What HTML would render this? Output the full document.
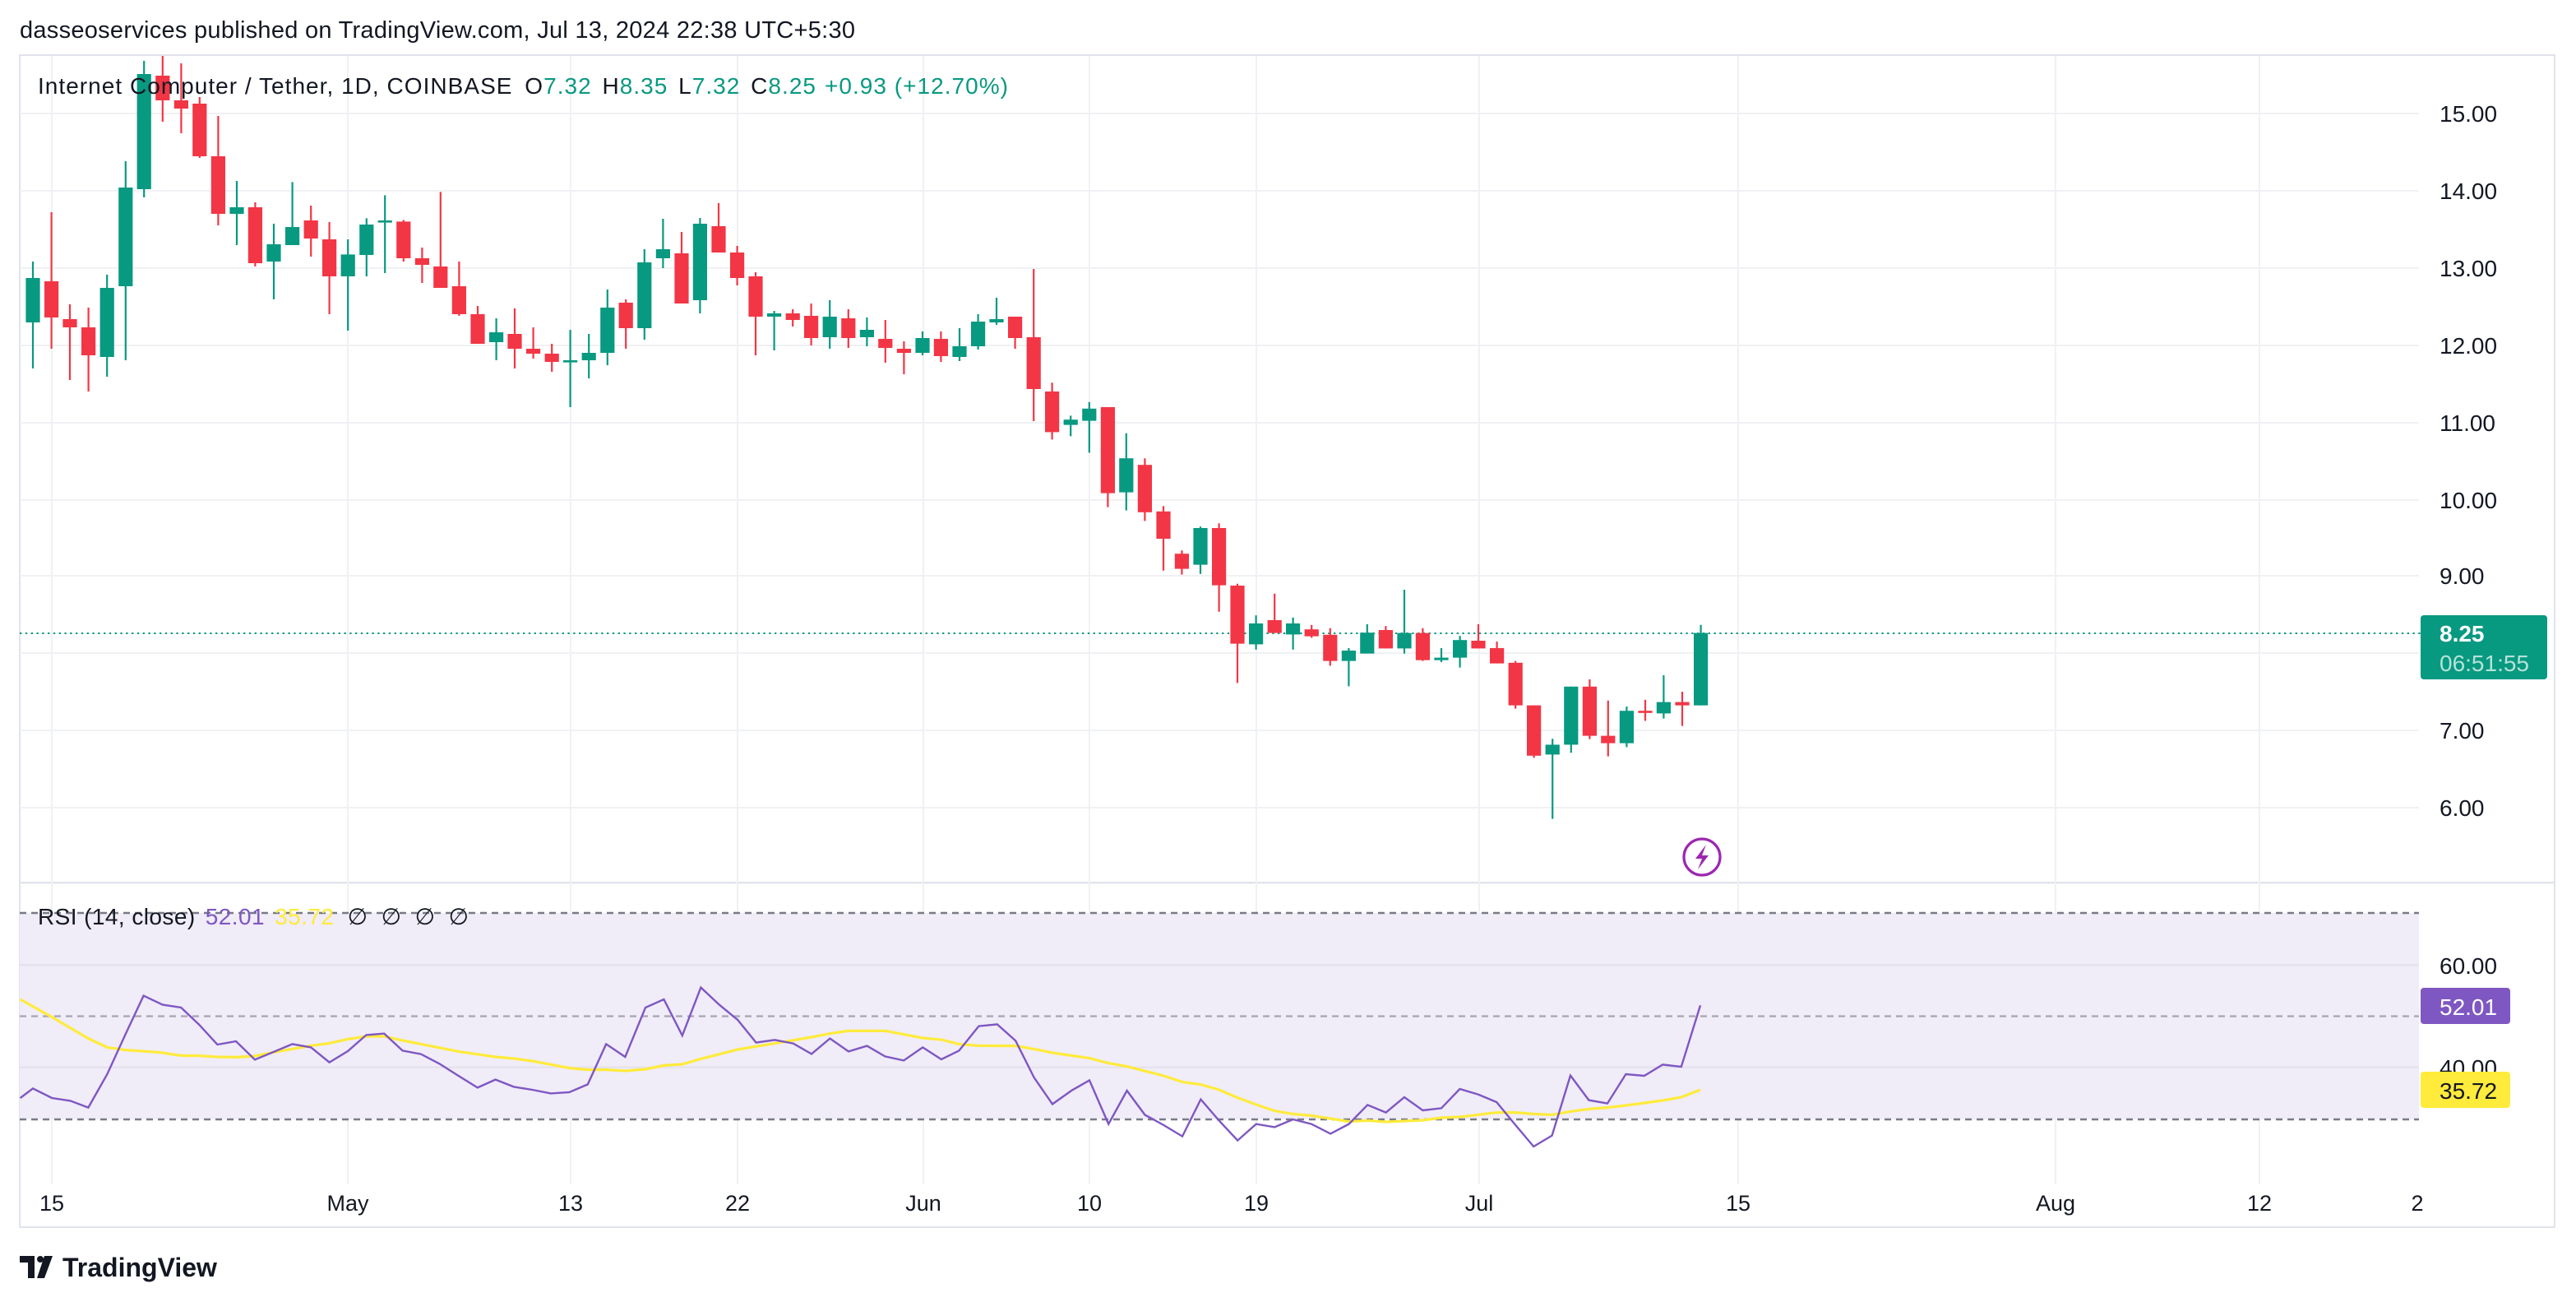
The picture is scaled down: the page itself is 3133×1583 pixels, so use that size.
<!DOCTYPE html>
<html><head><meta charset="utf-8"><style>
html,body{margin:0;padding:0;background:#fff;width:3133px;height:1583px;overflow:hidden}
svg{display:block}
text{font-family:"Liberation Sans","DejaVu Sans",sans-serif}
.g{fill:#089981;stroke:#089981}
.r{fill:#f23645;stroke:#f23645}
.w{stroke-width:1.1;fill:none}
.b{stroke:none}
</style></head><body>
<svg width="3133" height="1583" viewBox="0 0 1566.5 791.5" xmlns="http://www.w3.org/2000/svg">
<rect width="1566.5" height="791.5" fill="#fff"/>
<text x="12" y="23" font-size="14.5" fill="#131722" textLength="508" lengthAdjust="spacing">dasseoservices published on TradingView.com, Jul 13, 2024 22:38 UTC+5:30</text>
<rect x="12" y="33.5" width="1541.5" height="712.5" fill="none" stroke="#e0e3eb" stroke-width="1"/>
<line x1="12" y1="536.6" x2="1553.5" y2="536.6" stroke="#e0e3eb" stroke-width="1.2"/>
<g stroke="#f0f1f4" stroke-width="1">
<line x1="31.5" y1="34" x2="31.5" y2="720"/><line x1="211.5" y1="34" x2="211.5" y2="720"/><line x1="347" y1="34" x2="347" y2="720"/><line x1="448.5" y1="34" x2="448.5" y2="720"/><line x1="561.5" y1="34" x2="561.5" y2="720"/><line x1="662.5" y1="34" x2="662.5" y2="720"/><line x1="764" y1="34" x2="764" y2="720"/><line x1="899.5" y1="34" x2="899.5" y2="720"/><line x1="1057" y1="34" x2="1057" y2="720"/><line x1="1250" y1="34" x2="1250" y2="720"/><line x1="1374" y1="34" x2="1374" y2="720"/>
</g>
<g stroke="#f0f1f4" stroke-width="1">
<line x1="12" y1="69" x2="1471" y2="69"/><line x1="12" y1="116" x2="1471" y2="116"/><line x1="12" y1="163" x2="1471" y2="163"/><line x1="12" y1="210" x2="1471" y2="210"/><line x1="12" y1="257" x2="1471" y2="257"/><line x1="12" y1="304" x2="1471" y2="304"/><line x1="12" y1="350" x2="1471" y2="350"/><line x1="12" y1="397" x2="1471" y2="397"/><line x1="12" y1="444" x2="1471" y2="444"/><line x1="12" y1="491" x2="1471" y2="491"/>
</g>
<g font-size="14" fill="#131722">
<text x="1483.5" y="74">15.00</text><text x="1483.5" y="121">14.00</text><text x="1483.5" y="168">13.00</text><text x="1483.5" y="215">12.00</text><text x="1483.5" y="262">11.00</text><text x="1483.5" y="309">10.00</text><text x="1483.5" y="355">9.00</text><text x="1483.5" y="449">7.00</text><text x="1483.5" y="496">6.00</text>
</g>
<line x1="12" y1="385" x2="1472" y2="385" stroke="#089981" stroke-width="1" stroke-dasharray="1.2,2.2"/>
<rect x="1472" y="374" width="77" height="39" rx="2" fill="#089981"/>
<text x="1483.5" y="390" font-size="14" fill="#fff" font-weight="bold">8.25</text>
<text x="1483.5" y="408" font-size="14" fill="#b4e3d8">06:51:55</text>
<g id="c">
<path class="g w" d="M20 159V224"/><rect class="g b" x="15.7" y="169" width="8.6" height="27"/>
<path class="r w" d="M31.3 129V212"/><rect class="r b" x="27" y="171" width="8.6" height="22"/>
<path class="r w" d="M42.5 185V231"/><rect class="r b" x="38.2" y="194" width="8.6" height="5"/>
<path class="r w" d="M53.8 187V238"/><rect class="r b" x="49.5" y="199" width="8.6" height="17"/>
<path class="g w" d="M65.1 167V229"/><rect class="g b" x="60.8" y="175" width="8.6" height="42"/>
<path class="g w" d="M76.4 98V219"/><rect class="g b" x="72.1" y="114" width="8.6" height="60"/>
<path class="g w" d="M87.6 37V120"/><rect class="g b" x="83.3" y="45" width="8.6" height="70"/>
<path class="r w" d="M98.9 34V74"/><rect class="r b" x="94.6" y="46" width="8.6" height="15"/>
<path class="r w" d="M110.2 38.5V81"/><rect class="r b" x="105.9" y="61" width="8.6" height="5"/>
<path class="r w" d="M121.4 59V96"/><rect class="r b" x="117.1" y="63" width="8.6" height="32"/>
<path class="r w" d="M132.7 70.5V137"/><rect class="r b" x="128.4" y="95" width="8.6" height="35"/>
<path class="g w" d="M144 110V149"/><rect class="g b" x="139.7" y="126" width="8.6" height="4"/>
<path class="r w" d="M155.2 123V162"/><rect class="r b" x="150.9" y="126" width="8.6" height="34"/>
<path class="g w" d="M166.5 136V182"/><rect class="g b" x="162.2" y="148.5" width="8.6" height="10.5"/>
<path class="g w" d="M177.8 110.7V149"/><rect class="g b" x="173.5" y="138" width="8.6" height="11"/>
<path class="r w" d="M189.1 125V156"/><rect class="r b" x="184.8" y="134" width="8.6" height="11"/>
<path class="r w" d="M200.3 135V191"/><rect class="r b" x="196" y="145.5" width="8.6" height="22.5"/>
<path class="g w" d="M211.6 145.5V201"/><rect class="g b" x="207.3" y="154.7" width="8.6" height="13.3"/>
<path class="g w" d="M222.9 132.7V168"/><rect class="g b" x="218.6" y="136.5" width="8.6" height="18.5"/>
<path class="g w" d="M234.1 118.7V166"/><rect class="g b" x="229.8" y="134" width="8.6" height="1.3"/>
<path class="r w" d="M245.4 133.7V159"/><rect class="r b" x="241.1" y="134.7" width="8.6" height="22.3"/>
<path class="r w" d="M256.7 150.5V172"/><rect class="r b" x="252.4" y="157" width="8.6" height="4"/>
<path class="r w" d="M267.9 116.7V175"/><rect class="r b" x="263.6" y="162" width="8.6" height="13"/>
<path class="r w" d="M279.2 159V192"/><rect class="r b" x="274.9" y="174" width="8.6" height="17"/>
<path class="r w" d="M290.5 186V209"/><rect class="r b" x="286.2" y="191" width="8.6" height="18"/>
<path class="g w" d="M301.8 193.5V219"/><rect class="g b" x="297.5" y="202" width="8.6" height="6"/>
<path class="r w" d="M313 187.5V224"/><rect class="r b" x="308.7" y="203" width="8.6" height="9"/>
<path class="r w" d="M324.3 199V218"/><rect class="r b" x="320" y="212" width="8.6" height="3"/>
<path class="r w" d="M335.6 209V226"/><rect class="r b" x="331.3" y="215" width="8.6" height="5"/>
<path class="g w" d="M346.8 200.5V247.5"/><rect class="g b" x="342.5" y="219" width="8.6" height="1.3"/>
<path class="g w" d="M358.1 203V230"/><rect class="g b" x="353.8" y="214.5" width="8.6" height="4.5"/>
<path class="g w" d="M369.4 176V222"/><rect class="g b" x="365.1" y="187" width="8.6" height="27.5"/>
<path class="r w" d="M380.6 182V212"/><rect class="r b" x="376.3" y="184" width="8.6" height="15.5"/>
<path class="g w" d="M391.9 151.5V206.5"/><rect class="g b" x="387.6" y="159.5" width="8.6" height="40"/>
<path class="g w" d="M403.2 133V163"/><rect class="g b" x="398.9" y="151.5" width="8.6" height="5.5"/>
<path class="r w" d="M414.5 141V184.5"/><rect class="r b" x="410.2" y="154" width="8.6" height="30.5"/>
<path class="g w" d="M425.7 132.5V190.5"/><rect class="g b" x="421.4" y="136" width="8.6" height="46.5"/>
<path class="r w" d="M437 123.5V153.5"/><rect class="r b" x="432.7" y="137.5" width="8.6" height="16"/>
<path class="r w" d="M448.3 149.5V173.5"/><rect class="r b" x="444" y="153.5" width="8.6" height="15.5"/>
<path class="r w" d="M459.5 165.5V216"/><rect class="r b" x="455.2" y="168" width="8.6" height="24.5"/>
<path class="g w" d="M470.8 189V213"/><rect class="g b" x="466.5" y="190.5" width="8.6" height="2"/>
<path class="r w" d="M482.1 188V198.5"/><rect class="r b" x="477.8" y="190.5" width="8.6" height="4"/>
<path class="r w" d="M493.3 184.5V210"/><rect class="r b" x="489" y="192" width="8.6" height="13.5"/>
<path class="g w" d="M504.6 182.5V212"/><rect class="g b" x="500.3" y="192.5" width="8.6" height="12.5"/>
<path class="r w" d="M515.9 188V211.5"/><rect class="r b" x="511.6" y="193.5" width="8.6" height="12"/>
<path class="g w" d="M527.2 193V210.5"/><rect class="g b" x="522.9" y="200.5" width="8.6" height="4.5"/>
<path class="r w" d="M538.4 194.5V220.5"/><rect class="r b" x="534.1" y="206" width="8.6" height="5.5"/>
<path class="r w" d="M549.7 207.5V227.5"/><rect class="r b" x="545.4" y="212" width="8.6" height="2.5"/>
<path class="g w" d="M561 201.5V216"/><rect class="g b" x="556.7" y="205.5" width="8.6" height="9"/>
<path class="r w" d="M572.2 201.5V220"/><rect class="r b" x="567.9" y="206" width="8.6" height="10.5"/>
<path class="g w" d="M583.5 199.5V219.5"/><rect class="g b" x="579.2" y="210.5" width="8.6" height="6.5"/>
<path class="g w" d="M594.8 191V212.5"/><rect class="g b" x="590.5" y="195.5" width="8.6" height="15"/>
<path class="g w" d="M606 181V197.5"/><rect class="g b" x="601.7" y="194" width="8.6" height="2"/>
<path class="r w" d="M617.3 192.5V212"/><rect class="r b" x="613" y="192.5" width="8.6" height="13"/>
<path class="r w" d="M628.6 163.5V256"/><rect class="r b" x="624.3" y="205" width="8.6" height="31.5"/>
<path class="r w" d="M639.8 232.6V267.2"/><rect class="r b" x="635.5" y="238" width="8.6" height="24.7"/>
<path class="g w" d="M651.1 252.7V265.2"/><rect class="g b" x="646.8" y="255.1" width="8.6" height="3.2"/>
<path class="g w" d="M662.4 244.4V275.2"/><rect class="g b" x="658.1" y="248.4" width="8.6" height="7.4"/>
<path class="r w" d="M673.7 247.5V308.3"/><rect class="r b" x="669.4" y="247.5" width="8.6" height="52.3"/>
<path class="g w" d="M684.9 263.4V310.3"/><rect class="g b" x="680.6" y="278.6" width="8.6" height="20.7"/>
<path class="r w" d="M696.2 278.6V316.7"/><rect class="r b" x="691.9" y="282.6" width="8.6" height="28.8"/>
<path class="r w" d="M707.5 307.6V346.9"/><rect class="r b" x="703.2" y="310.9" width="8.6" height="16.6"/>
<path class="r w" d="M718.7 334.6V349.3"/><rect class="r b" x="714.4" y="336.6" width="8.6" height="9.2"/>
<path class="g w" d="M730 320.1V348.9"/><rect class="g b" x="725.7" y="321" width="8.6" height="22.3"/>
<path class="r w" d="M741.3 318.1V371.9"/><rect class="r b" x="737" y="321" width="8.6" height="34.8"/>
<path class="r w" d="M752.5 354.9V415.2"/><rect class="r b" x="748.2" y="356" width="8.6" height="35.3"/>
<path class="g w" d="M763.8 374.1V394.9"/><rect class="g b" x="759.5" y="379" width="8.6" height="12.7"/>
<path class="r w" d="M775.1 360.9V384.8"/><rect class="r b" x="770.8" y="377" width="8.6" height="7.8"/>
<path class="g w" d="M786.3 375.4V394.9"/><rect class="g b" x="782" y="379" width="8.6" height="6.7"/>
<path class="r w" d="M797.6 379.9V387.7"/><rect class="r b" x="793.3" y="382.6" width="8.6" height="4.2"/>
<path class="r w" d="M808.9 381.9V404.7"/><rect class="r b" x="804.6" y="385.9" width="8.6" height="15.9"/>
<path class="g w" d="M820.2 394V417.2"/><rect class="g b" x="815.9" y="395.5" width="8.6" height="6.3"/>
<path class="g w" d="M831.4 379.5V397.3"/><rect class="g b" x="827.1" y="384.6" width="8.6" height="12.7"/>
<path class="r w" d="M842.7 380.6V394.2"/><rect class="r b" x="838.4" y="383" width="8.6" height="11.2"/>
<path class="g w" d="M854 358.5V397.3"/><rect class="g b" x="849.7" y="384.8" width="8.6" height="9.4"/>
<path class="r w" d="M865.2 381.9V401.8"/><rect class="r b" x="860.9" y="384.8" width="8.6" height="16.5"/>
<path class="g w" d="M876.5 394V402.5"/><rect class="g b" x="872.2" y="399.8" width="8.6" height="1.5"/>
<path class="g w" d="M887.8 386.6V405.8"/><rect class="g b" x="883.5" y="389.1" width="8.6" height="10.7"/>
<path class="r w" d="M899 379.5V394.2"/><rect class="r b" x="894.7" y="389.5" width="8.6" height="4.7"/>
<path class="r w" d="M910.3 390V403.3"/><rect class="r b" x="906" y="394" width="8.6" height="9.3"/>
<path class="r w" d="M921.6 401.8V430.8"/><rect class="r b" x="917.3" y="402.9" width="8.6" height="25.9"/>
<path class="r w" d="M932.8 428.8V460.7"/><rect class="r b" x="928.5" y="428.8" width="8.6" height="30.6"/>
<path class="g w" d="M944.1 449.1V497.8"/><rect class="g b" x="939.8" y="452.7" width="8.6" height="6"/>
<path class="g w" d="M955.4 417.4V457.6"/><rect class="g b" x="951.1" y="417.4" width="8.6" height="35.3"/>
<path class="r w" d="M966.7 413V449.3"/><rect class="r b" x="962.4" y="417.4" width="8.6" height="29.9"/>
<path class="r w" d="M977.9 425.9V459.8"/><rect class="r b" x="973.6" y="447.3" width="8.6" height="4.5"/>
<path class="g w" d="M989.2 429.5V454.2"/><rect class="g b" x="984.9" y="432.1" width="8.6" height="19.7"/>
<path class="r w" d="M1000.5 425.4V438.2"/><rect class="r b" x="996.2" y="432.1" width="8.6" height="1.3"/>
<path class="g w" d="M1011.7 410.5V436.8"/><rect class="g b" x="1007.4" y="426.8" width="8.6" height="6.9"/>
<path class="r w" d="M1023 420.5V441.3"/><rect class="r b" x="1018.7" y="426.8" width="8.6" height="2"/>
<path class="g w" d="M1034.3 379.9V428.8"/><rect class="g b" x="1030" y="384.8" width="8.6" height="44"/>
</g>
<text x="23" y="57" font-size="14" fill="#131722" textLength="590" lengthAdjust="spacing">Internet Computer / Tether, 1D, COINBASE <tspan dx="3">O</tspan><tspan fill="#089981">7.32</tspan> <tspan dx="2">H</tspan><tspan fill="#089981">8.35</tspan> <tspan dx="2">L</tspan><tspan fill="#089981">7.32</tspan> <tspan dx="2">C</tspan><tspan fill="#089981">8.25</tspan><tspan fill="#089981" dx="5">+0.93 (+12.70%)</tspan></text>
<circle cx="1035" cy="521" r="11" fill="#fff" stroke="#9c27b0" stroke-width="1.6"/>
<path d="M1037.5 513.5 L1031 522 L1035 522 L1032.5 528.5 L1039 520 L1035 520 Z" fill="#9c27b0"/>
<rect x="12" y="555" width="1459" height="125.5" fill="#f0ecf8"/>
<g stroke="#e3e0ea" stroke-width="1"><line x1="12" y1="586.7" x2="1471" y2="586.7"/><line x1="12" y1="648.8" x2="1471" y2="648.8"/></g>
<line x1="12" y1="555" x2="1471" y2="555" stroke="#787b86" stroke-width="1.2" stroke-dasharray="4,3"/>
<line x1="12" y1="617.8" x2="1471" y2="617.8" stroke="#aaa7b4" stroke-width="1.2" stroke-dasharray="4,3"/>
<line x1="12" y1="680.5" x2="1471" y2="680.5" stroke="#787b86" stroke-width="1.2" stroke-dasharray="4,3"/>
<polyline fill="none" stroke="#ffeb3b" stroke-width="1.6" points="12.3,607.5 31.6,618.3 53.7,631.3 65.2,636.7 76.5,638.3 96.5,639.7 110.1,641.7 121,641.8 132.2,642.5 143.5,642.7 155,642 166.3,639.7 189.1,635.7 200.3,634.2 211.5,631.7 222.7,630 233.6,630 244.8,632.5 256,634.7 278.8,639.2 301.3,642.5 312.5,643.5 323.7,645 346.2,649.3 357.4,650.3 368.6,650.3 380.2,651 392.5,650 403.7,647.7 414.9,647 426.2,643.7 448.6,638 471.1,634.3 493.5,630.5 504.7,628.3 516,626.7 538.4,626.7 549.6,628.8 561.1,631 572.4,632 583.2,634.8 595.2,635.7 617.6,635.8 628.8,637.7 640,640 662.5,643.3 674.1,646.3 685.3,648.3 707.7,654 719,657.7 730.2,659.3 741.4,662.5 752.6,667.3 763.9,671.5 775.1,675.3 786.3,677.2 797.5,678.2 809.1,680 820.3,681.8 831.6,681.2 842.8,682 865.2,681 876.5,679.5 887.7,679 898.9,677.7 910.1,676.3 921.4,676.3 932.6,677.2 943.8,677.7 955,675.7 966.2,674.2 977.5,673.3 988.7,672 999.9,670.5 1011.1,669 1022.4,667 1034,662.5"/>
<polyline fill="none" stroke="#7e57c2" stroke-width="1.2" points="12.3,667.5 20,661.7 31.6,667.5 42.8,669.2 53.7,673.3 65.2,653 76.5,628.3 87.3,605.3 98.9,610.8 110.1,612.5 121,622.8 132.2,635 143.5,633 155,644.2 166.3,639.5 177.8,634.7 189.1,636.7 200.3,645.8 211.5,639 222.7,629.2 233.6,628.3 244.8,638.7 256,640.8 267.3,646.7 278.8,654 290.4,661.2 301.3,656.3 312.5,660.7 323.7,662.5 335,664.7 346.2,664 357.4,659.2 368.6,634.7 380.2,642.5 392.5,612.5 403.7,607.5 414.9,629.5 426.2,600.3 437.4,610.8 448.6,620 459.8,633.8 471.1,632.2 482.3,634.3 493.5,640.7 504.7,631.3 516,639.2 527.2,635.8 538.2,642.2 549.6,644.7 561.1,636.7 572.4,644 583.2,638.7 595.2,623.8 606.4,622.7 617.6,632.7 628.8,655 640,671.2 652,662.7 662.5,656.7 674.1,683.3 685.3,663 696.2,677.7 707.7,684 719,690.8 730.2,668.3 741.4,681.3 752.6,693.3 763.9,683.3 775.1,685.2 786.3,680.5 797.5,683.3 809.1,689.2 820.3,683.3 831.6,671.7 842.8,676.3 854,667 865.2,675 876.5,673.7 887.7,662 898.9,665.3 910.1,670 921.4,683.7 932.6,697 943.8,690.3 955,653.8 966.2,668.8 977.5,670.8 988.7,653 999.9,654 1011.1,647.2 1022.4,648.5 1034,611.2"/>
<text x="23" y="562" font-size="14" fill="#131722" textLength="262" lengthAdjust="spacing">RSI (14, close) <tspan fill="#7e57c2" dx="2">52.01</tspan> <tspan fill="#ffeb3b" dx="2">35.72</tspan> <tspan dx="4">∅</tspan> <tspan dx="4">∅</tspan> <tspan dx="4">∅</tspan> <tspan dx="4">∅</tspan></text>
<text x="1483.5" y="592" font-size="14" fill="#131722">60.00</text>
<text x="1483.5" y="654" font-size="14" fill="#131722">40.00</text>
<rect x="1472" y="600.5" width="54.5" height="22" rx="2" fill="#7e57c2"/>
<text x="1483.5" y="617" font-size="14" fill="#fff">52.01</text>
<rect x="1472" y="651.5" width="54.5" height="22" rx="2" fill="#ffeb3b"/>
<text x="1483.5" y="668" font-size="14" fill="#131722">35.72</text>
<g font-size="13.5" fill="#131722" text-anchor="middle">
<text x="31.5" y="736">15</text><text x="211.5" y="736">May</text><text x="347" y="736">13</text><text x="448.5" y="736">22</text><text x="561.5" y="736">Jun</text><text x="662.5" y="736">10</text><text x="764" y="736">19</text><text x="899.5" y="736">Jul</text><text x="1057" y="736">15</text><text x="1250" y="736">Aug</text><text x="1374" y="736">12</text><text x="1470" y="736">2</text>
</g>
<path d="M12 763.5 H21 V777 H17 V767.5 H12 Z" fill="#131722"/>
<circle cx="24.5" cy="765.5" r="2" fill="#131722"/>
<path d="M27 763.5 H32 L27 777 H22.5 Z" fill="#131722"/>
<text x="38" y="776" font-size="16" fill="#131722" font-weight="bold">TradingView</text>
</svg>
</body></html>
